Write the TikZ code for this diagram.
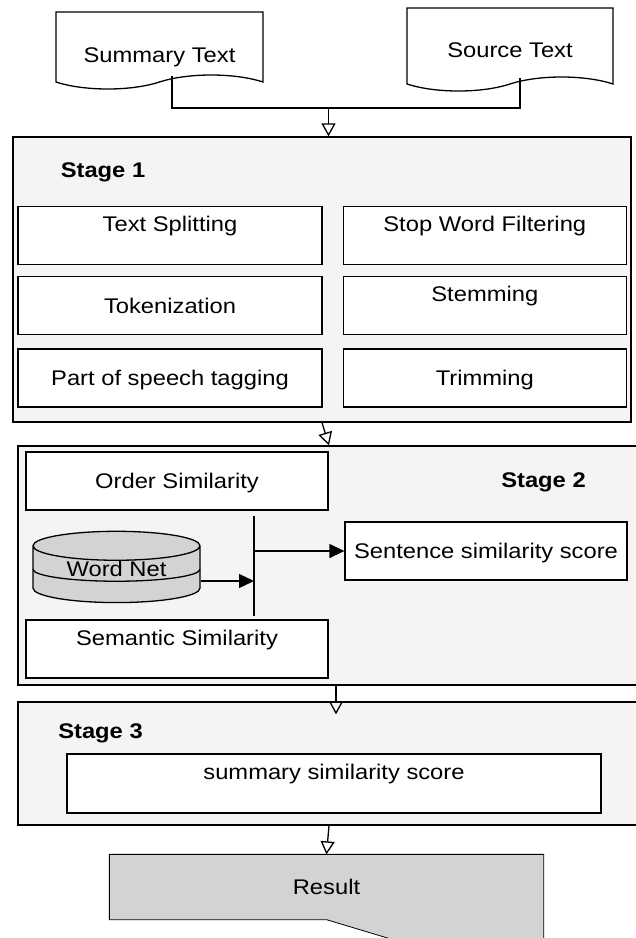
\documentclass[tikz,border=0pt]{standalone}
\usepackage{fontspec}
\setmainfont{Liberation Sans}[FakeStretch=1.12]
\usetikzlibrary{positioning, calc, arrows.meta, shapes.geometric, shapes.symbols, backgrounds}
\definecolor{stagegray}{HTML}{F4F4F4}
\definecolor{shadegray}{HTML}{D3D3D3}

\begin{document}
\begin{tikzpicture}
    [x=0.5pt, y=-0.5pt, line width=0.65pt,
    font=\fontsize{10.6}{12}\selectfont,
    docnode/.style={tape, tape bend top=none, tape bend bottom=in and out, tape bend height=7pt, draw=black, fill=white, inner sep=1pt, text depth=0pt},
    stagenode/.style={rectangle, draw=black, fill=stagegray, inner sep=0pt},
    stepbox/.style={rectangle, draw=black, fill=white, minimum height=29pt, inner sep=1pt, text height=7.6pt, text depth=0pt},
    topbox/.style={stepbox, text depth=11.5pt},
    dbnode/.style={cylinder, shape border rotate=90, aspect=0.29, draw=black, fill=shadegray, minimum width=83.5pt, minimum height=34.5pt, inner sep=0pt, text height=7.6pt, text depth=6pt},
    stagelabel/.style={font=\fontsize{10.6}{12}\selectfont\bfseries},
    openarrow/.style={-{Triangle[open, width=7pt, length=6.5pt]}},
    fillarrow/.style={-{Triangle[width=7pt, length=7.5pt]}},]

    \useasboundingbox (0,0) rectangle (636,938);
    \clip (0,0) rectangle (636,938);

    %Nodes
    \node[docnode, minimum width=103.5pt, minimum height=38.5pt, text height=19.1pt](summary) at (159.5,43.5){Summary Text};
    \node[docnode, minimum width=103pt, minimum height=41.5pt, text height=15.1pt](source) at (510,42.5){Source Text};

    \node[stagenode, minimum width=309pt, minimum height=142.5pt](stagea) at (322,279.5){};
    \node[topbox, minimum width=152pt](split) at (170,235.5){Text Splitting};
    \node[stepbox, minimum width=152pt](token)[below=5.5pt of split]{Tokenization};
    \node[stepbox, minimum width=152pt](pos)[below=6.5pt of token]{Part of speech tagging};
    \node[topbox, minimum width=141.5pt](stop)[right=10pt of split]{Stop Word Filtering};
    \node[topbox, minimum width=141.5pt](stem)[right=10pt of token]{Stemming};
    \node[stepbox, minimum width=141.5pt](trim)[right=10pt of pos]{Trimming};

    \node[stagenode, minimum width=311pt, minimum height=119.5pt](stageb) at (329,565.5){};
    \node[stepbox, minimum width=151pt](order) at (177,481){Order Similarity};
    \node[topbox, minimum width=151pt](semantic) at (177,649){Semantic Similarity};
    \node[stepbox, minimum width=141pt](sentence) at (486,551){Sentence similarity score};
    \node[dbnode](wordnet) at (116.5,574.5){Word Net};
    \draw ($(wordnet.south)+(-83.5,-34)$) arc[start angle=180, end angle=0, x radius=83.5, y radius=12];

    \node[stagenode, minimum width=311pt, minimum height=61.5pt](stagec) at (329,763.5){};
    \node[topbox, minimum width=267pt, minimum height=29.5pt](score) at (334,783.5){summary similarity score};

    \node[minimum width=216.5pt, minimum height=32pt, inner sep=0pt](result) at (326.5,887){Result};
    \begin{scope}[on background layer]
        \filldraw[fill=shadegray] (result.north west) -- (result.north east) -- ($(result.south east)+(0,40)$)
            -- ($(result.south)+(133,40)$) -- (result.south) -- (result.south west) -- cycle;
    \end{scope}

    %Lines
    \coordinate (join) at (328.5,108);
    \draw ($(summary.south)+(12.5,0)$) |- (join) -| ($(source.south)+(10,0)$);
    \draw[openarrow] (join) -- (join |- stagea.north);
    \draw[openarrow] (stagea.south) -- (stageb.north);

    \coordinate (bartop) at (254,516);
    \coordinate (barbot) at (254,616);
    \coordinate (barin) at (254,581);
    \draw (bartop) -- (barbot);
    \draw[fillarrow] (wordnet.east |- barin) -- (barin);
    \draw[fillarrow] (sentence.west -| bartop) -- (sentence.west);

    \draw[openarrow] ($(stageb.south)+(7,0)$) -- ($(stagec.north)+(7,13)$);
    \draw[openarrow] (stagec.south) -- (result.north);

    %Labels
    \node[stagelabel](labela) at (103,172){Stage 1};
    \node[stagelabel](labelb) at (543.5,482){Stage 2};
    \node[stagelabel](labelc) at (100.5,733){Stage 3};

\end{tikzpicture}
\end{document}
